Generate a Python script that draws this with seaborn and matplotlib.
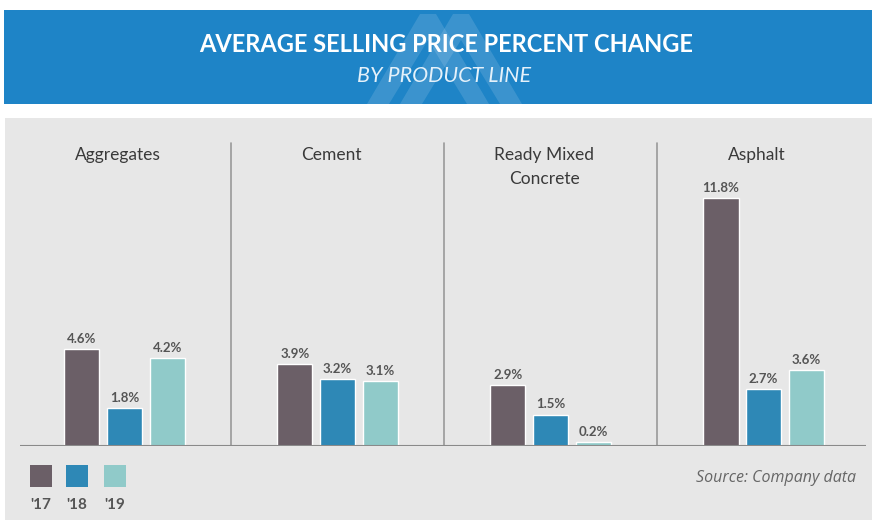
import matplotlib
matplotlib.use("Agg")
import matplotlib.pyplot as plt
import seaborn as sns
import pandas as pd
from matplotlib.patches import Rectangle, Polygon

categories = ["Aggregates", "Cement", "Ready Mixed\nConcrete", "Asphalt"]
years = ["'17", "'18", "'19"]
v17 = [4.6, 3.9, 2.9, 11.8]
v18 = [1.8, 3.2, 1.5, 2.7]
v19 = [4.2, 3.1, 0.2, 3.6]
colors = ["#6b5f67", "#2e88b6", "#90cac9"]

rows = []
for yr, vals in zip(years, [v17, v18, v19]):
    for c, v in zip(categories, vals):
        rows.append({"category": c, "year": yr, "value": v})
df = pd.DataFrame(rows)

sns.set_theme(style="white")
plt.rcParams["font.family"] = ["Lato", "DejaVu Sans"]

W, H = 872, 520
fig = plt.figure(figsize=(W / 100, H / 100), dpi=100)
fig.patch.set_facecolor("white")


def fx(x):
    return x / W


def fy(y):
    return (H - y) / H


# gray panel
fig.patches.append(Rectangle((fx(5), 0), fx(872) - fx(5), fy(118), transform=fig.transFigure,
                             facecolor="#e7e7e7", edgecolor="none", zorder=-2))
# header
fig.patches.append(Rectangle((fx(4), fy(104)), 1 - fx(4), fy(10) - fy(104), transform=fig.transFigure,
                             facecolor="#1e84c7", edgecolor="none", zorder=-2))
# watermark chevrons
for peak, base_l, base_r in [(428, 367, 489), (461, 400, 522)]:
    outer = [(fx(base_l), fy(104)), (fx(peak - 8), fy(14)), (fx(peak + 8), fy(14)), (fx(base_r), fy(104)),
             (fx(base_r - 22), fy(104)), (fx(peak), fy(40)), (fx(base_l + 22), fy(104))]
    fig.patches.append(Polygon(outer, closed=True, transform=fig.transFigure,
                               facecolor="white", alpha=0.13, edgecolor="none", zorder=-1))

fig.text(fx(446), fy(45), "AVERAGE SELLING PRICE PERCENT CHANGE", ha="center", va="center",
         color="white", fontsize=17, fontweight="bold")
fig.text(fx(444), fy(76), "BY PRODUCT LINE", ha="center", va="center",
         color="#e4f1fa", fontsize=15.5, fontstyle="italic")

# bar axes
left, right, bottom, top = 20, 866, 446, 130
ax = fig.add_axes([fx(left), fy(bottom), fx(right) - fx(left), fy(top) - fy(bottom)])
ax.set_zorder(2)
ax.set_facecolor("none")
sns.barplot(data=df, x="category", y="value", hue="year", order=categories, hue_order=years,
            palette=colors, width=0.6, gap=0.175, ax=ax, legend=False, saturation=1)
ppu = 21.0
ax.set_ylim(0, (bottom - top) / ppu)
ax.set_xlim(-0.4906, 3.481)
for cont in ax.containers:
    ax.bar_label(cont, fmt="%.1f%%", padding=3, fontsize=9.5, color="#555555", fontweight="bold")
for s in ax.spines.values():
    s.set_visible(False)
ax.set_xticks([])
ax.set_yticks([])
ax.set_xlabel("")
ax.set_ylabel("")
ax.axhline(0, color="#8a8a8a", lw=1.5, zorder=5)
for xs in [0.5, 1.5, 2.5]:
    ax.plot([xs, xs], [0, (bottom - 143) / ppu], color="#9a9a9a", lw=1.2)
for i, c in enumerate(categories):
    ax.text(i - 0.03, (bottom - 147) / ppu, c, ha="center", va="top", fontsize=12.5,
            color="#3a3a3a", linespacing=1.6)

# legend
for (x0, col, lab) in [(30, colors[0], years[0]), (66, colors[1], years[1]), (104, colors[2], years[2])]:
    fig.patches.append(Rectangle((fx(x0), fy(487)), fx(22), fy(465) - fy(487), transform=fig.transFigure,
                                 facecolor=col, edgecolor="none"))
    fig.text(fx(x0 + 11), fy(505), lab, ha="center", va="center", fontsize=11, color="#555555",
             fontweight="bold")

fig.text(fx(856), fy(478), "Source: Company data", ha="right", va="center", fontsize=11.5,
         color="#666666", fontstyle="italic", family=["Open Sans", "DejaVu Sans"])

fig.savefig("out.png", dpi=100, facecolor="white")
